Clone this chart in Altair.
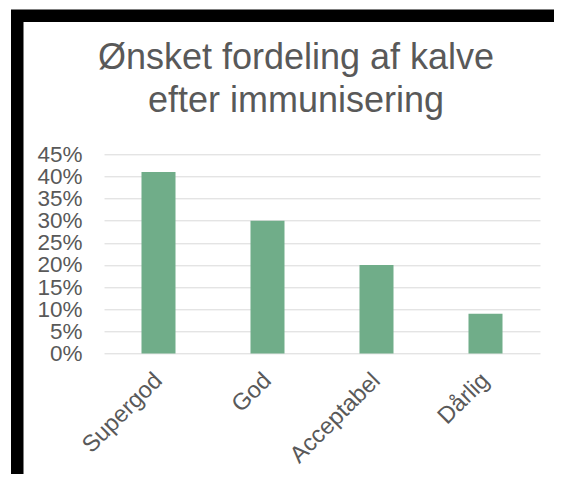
import altair as alt
import pandas as pd

categories = ["Supergod", "God", "Acceptabel", "Dårlig"]
values = [0.41, 0.30, 0.20, 0.09]
y_ticks = [0, 0.05, 0.10, 0.15, 0.20, 0.25, 0.30, 0.35, 0.40, 0.45]
title_lines = ["Ønsket fordeling af kalve", "efter immunisering"]

FONT = "Liberation Sans"
GREY = "#595959"

df = pd.DataFrame({"kategori": categories, "andel": values})

bars = alt.Chart(df).mark_bar(color="#70AD89").encode(
    x=alt.X(
        "kategori:N",
        sort=categories,
        scale=alt.Scale(paddingInner=0.688, paddingOuter=0.344),
        axis=alt.Axis(
            title=None, labelAngle=-45, labelAlign="right", labelBaseline="middle",
            labelPadding=23, labelFontSize=23.5, labelColor=GREY, labelFont=FONT,
            domain=False, ticks=False, labelOverlap=False,
        ),
    ),
    y=alt.Y(
        "andel:Q",
        scale=alt.Scale(domain=[0, 0.45], nice=False),
        axis=alt.Axis(
            title=None, values=y_ticks, format=".0%", labelFontSize=22.5,
            labelColor=GREY, labelFont=FONT, labelPadding=22, domain=False,
            ticks=False, gridColor="#D9D9D9", gridWidth=1, labelOverlap=False,
            labelFlush=False,
        ),
    ),
)

frame = alt.Chart(pd.DataFrame({"f": [0]})).mark_rect(
    filled=False, stroke="black", strokeWidth=12.5
).encode(
    x=alt.value(-86.75), x2=alt.value(1500), y=alt.value(-138.5), y2=alt.value(1500)
)

chart = alt.layer(frame, bars).properties(
    width=436,
    height=199.2,
    title=alt.Title(
        title_lines, fontSize=36, font=FONT, color=GREY, fontWeight="normal",
        anchor="middle", frame="group", dx=-26, dy=110, offset=0, lineHeight=43,
    ),
    autosize=alt.AutoSizeParams(type="none"),
    padding={"left": 96, "top": 146.3, "right": 14, "bottom": 120.5},
    background="white",
).configure_view(strokeWidth=0)

chart.save("out.html", embed_options={"renderer": "svg", "actions": False})
